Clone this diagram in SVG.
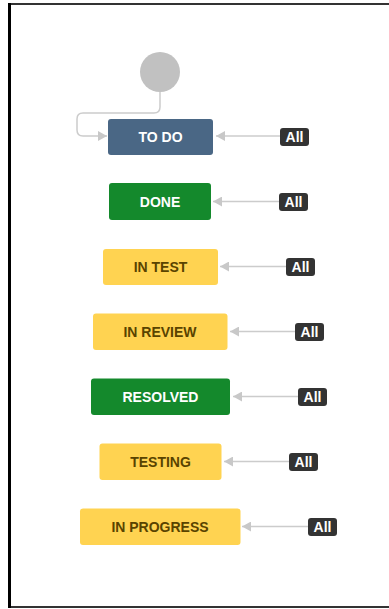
<svg xmlns="http://www.w3.org/2000/svg" width="389" height="609" viewBox="0 0 389 609">
<style>
.lbl{font-family:"Liberation Sans",Arial,sans-serif;font-weight:bold;font-size:14px;text-anchor:middle}
.all{font-family:"Liberation Sans",Arial,sans-serif;font-weight:bold;font-size:14px;fill:#fff;text-anchor:middle}
.badge{fill:#333333}
.blue{fill:#4a6785}
.green{fill:#14892c}
.yellow{fill:#ffd351}
.wt{fill:#ffffff}
.yt{fill:#594300}
.conn{stroke:#cccccc;stroke-width:1.5;fill:none;marker-end:url(#arr)}
</style>
<defs>
<marker id="arr" markerWidth="10" markerHeight="10" refX="9" refY="5" orient="auto" markerUnits="userSpaceOnUse">
<path d="M0,0 L9,5 L0,10 Z" fill="#c8c8c8"/>
</marker>
</defs>
<rect x="0" y="0" width="389" height="609" fill="#ffffff"/>
<g id="frame">
<line x1="8" y1="4" x2="389" y2="4" stroke="#333" stroke-width="2"/>
<line x1="8" y1="607" x2="389" y2="607" stroke="#333" stroke-width="2"/>
<line x1="9.5" y1="3" x2="9.5" y2="608" stroke="#000" stroke-width="3"/>
</g>
<g id="connectors">
<path class="conn" d="M160,92 L160,107 Q160,113 154,113 L83,113 Q77,113 77,119 L77,130 Q77,136 83,136 L107,136"/>
<line class="conn" x1="280" y1="136" x2="216" y2="136"/>
<line class="conn" x1="279" y1="201.5" x2="213" y2="201.5"/>
<line class="conn" x1="286" y1="266.5" x2="220" y2="266.5"/>
<line class="conn" x1="295" y1="331.5" x2="230" y2="331.5"/>
<line class="conn" x1="298" y1="396.5" x2="233" y2="396.5"/>
<line class="conn" x1="289" y1="461.5" x2="224" y2="461.5"/>
<line class="conn" x1="308" y1="526.5" x2="242" y2="526.5"/>
</g>
<g id="start"><circle cx="160" cy="72" r="20" fill="#c1c1c1"/></g>
<g id="todo"><rect class="blue" x="108" y="119" width="105" height="36" rx="3"/><text class="lbl wt" x="160.5" y="142">TO DO</text></g>
<g id="done"><rect class="green" x="109" y="183" width="102" height="37" rx="3"/><text class="lbl wt" x="160" y="206.5">DONE</text></g>
<g id="intest"><rect class="yellow" x="103" y="249" width="115" height="36" rx="3"/><text class="lbl yt" x="160.5" y="272">IN TEST</text></g>
<g id="inreview"><rect class="yellow" x="93" y="313.5" width="134.5" height="36.5" rx="3"/><text class="lbl yt" x="160" y="336.5">IN REVIEW</text></g>
<g id="resolved"><rect class="green" x="91" y="378.5" width="139" height="36.5" rx="3"/><text class="lbl wt" x="160.5" y="401.5">RESOLVED</text></g>
<g id="testing"><rect class="yellow" x="99.5" y="443.5" width="122" height="36.5" rx="3"/><text class="lbl yt" x="160.5" y="466.5">TESTING</text></g>
<g id="inprogress"><rect class="yellow" x="80" y="508.5" width="160.5" height="36.5" rx="3"/><text class="lbl yt" x="160" y="531.5">IN PROGRESS</text></g>
<g id="all1"><rect class="badge" x="280" y="128" width="29" height="18" rx="3"/><text class="all" x="294.5" y="142">All</text></g>
<g id="all2"><rect class="badge" x="279" y="193" width="29" height="18" rx="3"/><text class="all" x="293.5" y="207">All</text></g>
<g id="all3"><rect class="badge" x="286" y="258" width="29" height="18" rx="3"/><text class="all" x="300.5" y="272">All</text></g>
<g id="all4"><rect class="badge" x="295" y="323" width="29" height="18" rx="3"/><text class="all" x="309.5" y="337">All</text></g>
<g id="all5"><rect class="badge" x="298" y="388" width="29" height="18" rx="3"/><text class="all" x="312.5" y="402">All</text></g>
<g id="all6"><rect class="badge" x="289" y="453" width="29" height="18" rx="3"/><text class="all" x="303.5" y="467">All</text></g>
<g id="all7"><rect class="badge" x="308" y="518" width="29" height="18" rx="3"/><text class="all" x="322.5" y="532">All</text></g>
</svg>
